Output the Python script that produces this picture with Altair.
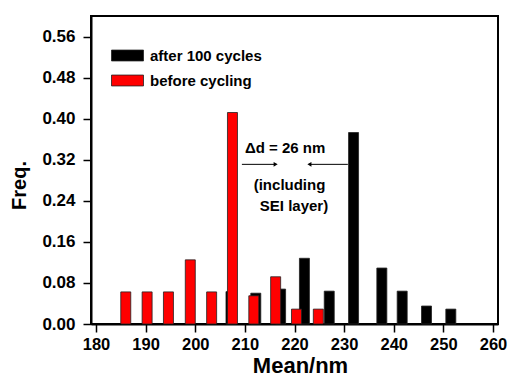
import altair as alt
import pandas as pd

# ---- data ----
red_centers = [186.0, 190.3, 194.6, 199.0, 203.3, 207.5, 211.8, 216.2, 220.4, 224.8]
red_freq = [0.0625, 0.0625, 0.0625, 0.125, 0.0625, 0.412, 0.055, 0.092, 0.029, 0.029]
black_centers = [207.2, 212.2, 217.2, 222.0, 227.0, 231.9, 237.6, 241.7, 246.6, 251.5]
black_freq = [0.063, 0.060, 0.068, 0.128, 0.064, 0.373, 0.109, 0.064, 0.035, 0.029]

series_names = ["after 100 cycles", "before cycling"]
series_colors = ["#000000", "#ff0000"]

x_ticks = list(range(180, 261, 5))
y_ticks = [round(i * 0.04, 2) for i in range(16)]

ann_texts = ["\u0394d = 26 nm", "(including", "SEI layer)"]
ann_x = [218.1, 219.0, 219.9]
ann_y = [0.342, 0.271, 0.230]

arrow_start = [209.4, 230.75]
arrow_end = [216.2, 223.0]
arrow_y = [0.311, 0.311]
arrow_shape = ["triangle-right", "triangle-left"]

FONT = "Liberation Sans"

bars = pd.DataFrame(
    {
        "mean": black_centers + red_centers,
        "freq": black_freq + red_freq,
        "series": [series_names[0]] * len(black_centers) + [series_names[1]] * len(red_centers),
        "order": list(range(len(black_centers) + len(red_centers))),
    }
)
ann = pd.DataFrame({"text": ann_texts, "x": ann_x, "y": ann_y})
arrows = pd.DataFrame({"x": arrow_start, "x2": arrow_end, "y": arrow_y, "shape": arrow_shape})

xscale = alt.Scale(domain=[180, 260], nice=False, zero=False)
yscale = alt.Scale(domain=[0, 0.6], nice=False)

x_axis = alt.Axis(
    title="Mean/nm",
    values=x_ticks,
    labelExpr="datum.value % 10 == 0 ? datum.label : ''",
    format="d",
    grid=False,
    tickSize={"condition": {"test": "datum.value % 10 == 0", "value": 8}, "value": 5},
    tickWidth=1.5,
    tickColor="black",
    domainColor="black",
    domainWidth=2,
    labelFont=FONT,
    labelFontSize=16.5,
    labelFontWeight="bold",
    labelColor="black",
    labelPadding=4,
    titleFont=FONT,
    titleFontSize=22,
    titleFontWeight="bold",
    titleColor="black",
    titleX=209,
    titleY=41,
    titleBaseline="middle",
    titleAlign="center",
)
y_axis = alt.Axis(
    title="Freq.",
    values=y_ticks,
    labelExpr="round(datum.value * 100) % 8 == 0 ? format(datum.value, '.2f') : ''",
    grid=False,
    tickSize={"condition": {"test": "round(datum.value * 100) % 8 == 0", "value": 8}, "value": 5},
    tickWidth=1.5,
    tickColor="black",
    domainColor="black",
    domainWidth=2,
    labelFont=FONT,
    labelFontSize=17,
    labelFontWeight="bold",
    labelColor="black",
    labelPadding=8,
    titleFont=FONT,
    titleFontSize=20,
    titleFontWeight="bold",
    titleColor="black",
    titleAngle=270,
    titleX=-72,
    titleY=169,
    titleBaseline="middle",
    titleAlign="center",
)

bar_layer = (
    alt.Chart(bars)
    .mark_bar(size=10, stroke="#222222", strokeWidth=0.8)
    .encode(
        x=alt.X("mean:Q", scale=xscale, axis=x_axis),
        y=alt.Y("freq:Q", scale=yscale, axis=y_axis, stack=None),
        color=alt.Color(
            "series:N",
            scale=alt.Scale(domain=series_names, range=series_colors),
            legend=alt.Legend(
                title=None,
                orient="none",
                legendX=20,
                legendY=23,
                symbolType="M-1,-0.34H1V0.34H-1Z",
                symbolSize=1024,
                symbolStrokeColor="#222222",
                symbolStrokeWidth=0.8,
                symbolOpacity=1,
                labelFont=FONT,
                labelFontSize=15,
                labelFontWeight="bold",
                labelColor="black",
                labelOffset=6,
                rowPadding=-12,
            ),
        ),
        order=alt.Order("order:Q"),
    )
)

text_layer = (
    alt.Chart(ann)
    .mark_text(font=FONT, fontSize=15, fontWeight="bold", color="black", baseline="middle", align="center")
    .encode(x=alt.X("x:Q", scale=xscale), y=alt.Y("y:Q", scale=yscale), text="text:N")
)

shaft_layer = (
    alt.Chart(arrows)
    .mark_rule(color="black", strokeWidth=1)
    .encode(x=alt.X("x:Q", scale=xscale), x2="x2:Q", y=alt.Y("y:Q", scale=yscale))
)

head_layer = (
    alt.Chart(arrows)
    .mark_point(filled=True, color="black", size=22, opacity=1)
    .encode(
        x=alt.X("x2:Q", scale=xscale),
        y=alt.Y("y:Q", scale=yscale),
        shape=alt.Shape("shape:N", scale=None, legend=None),
    )
)

chart = (
    alt.layer(bar_layer, shaft_layer, head_layer, text_layer)
    .properties(
        width=407,
        height=308,
        autosize=alt.AutoSizeParams(type="none"),
        padding={"left": 83, "top": 8, "right": 14, "bottom": 56},
        background="white",
    )
    .configure_view(stroke="black", strokeWidth=2)
)

chart.save("out.html", embed_options={"renderer": "svg", "actions": False})
